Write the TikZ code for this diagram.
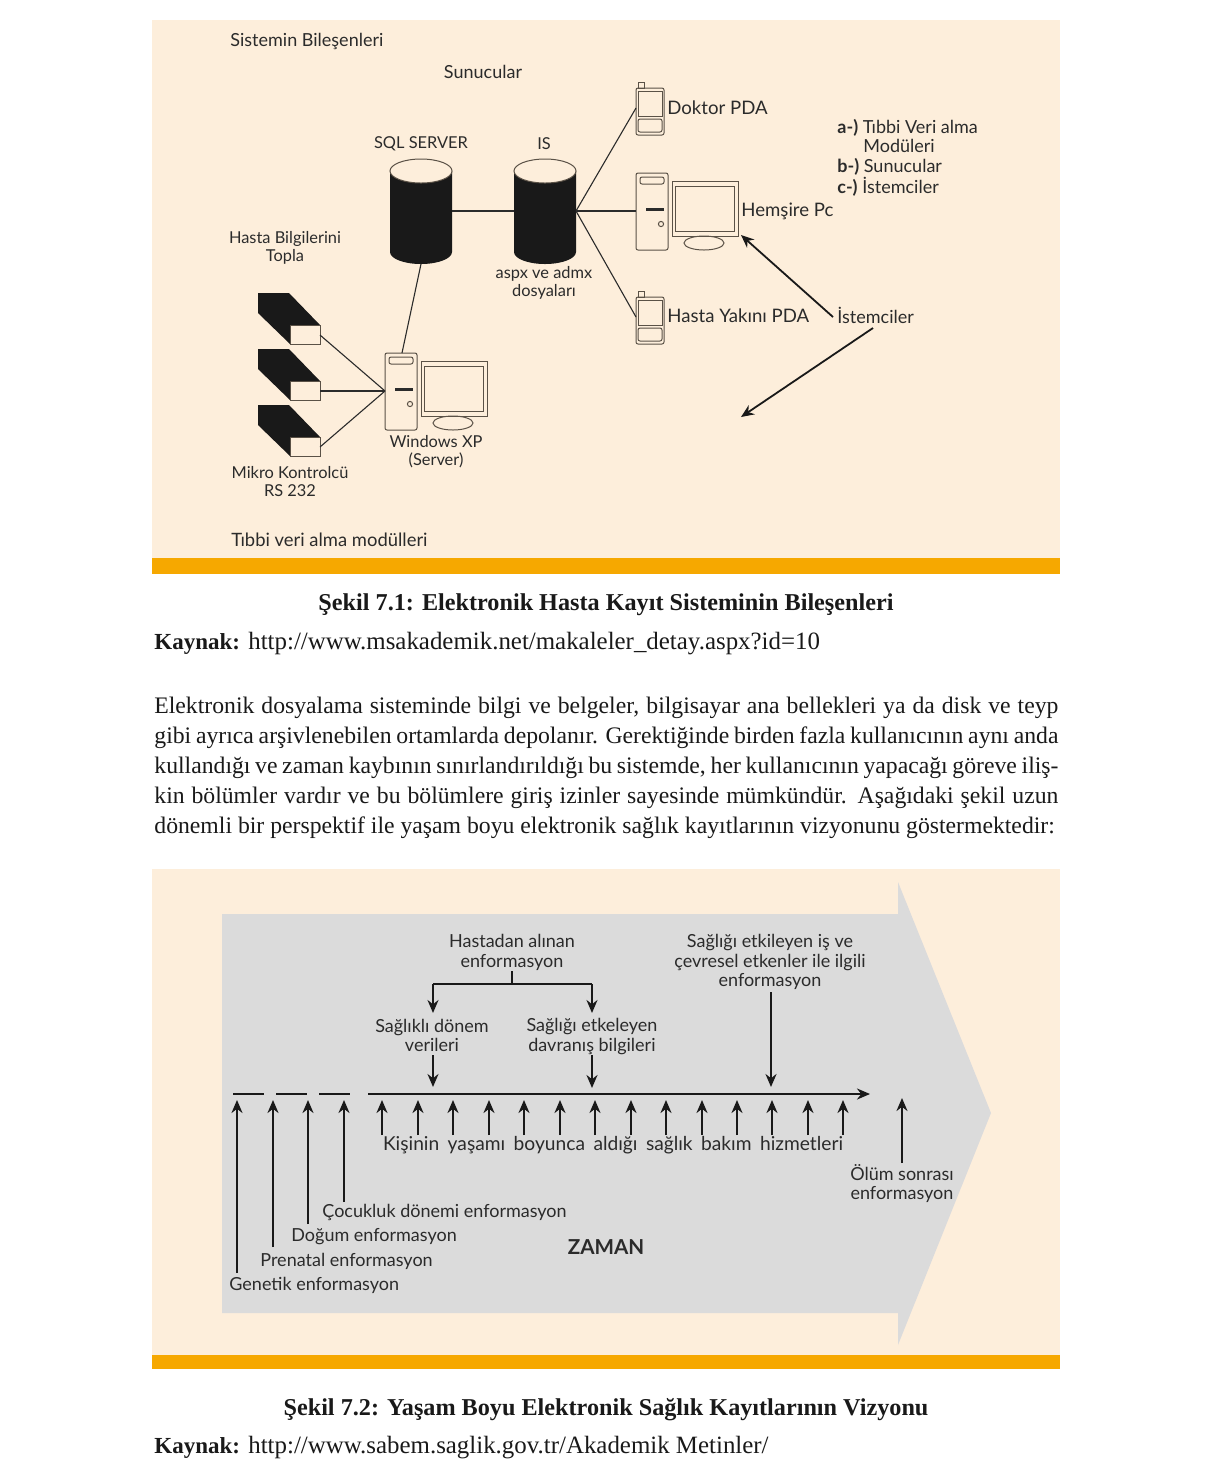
\documentclass[tikz,border=0pt]{standalone}
\usepackage{fontspec}
\setmainfont{Liberation Serif}
\newfontfamily\gillfont{Lato}
\usepackage{xcolor}
\usetikzlibrary{arrows.meta}

\definecolor{panelcream}{HTML}{FDEEDB}
\definecolor{panelbar}{HTML}{F6A800}
\definecolor{arrowgray}{HTML}{DBDBDB}
\definecolor{inkdark}{HTML}{2B2B2B}
\definecolor{devicetan}{HTML}{5A5146}

\tikzset{
  lbl/.style={inner sep=0pt,yshift=-0.7pt,text=inkdark,align=center,font=\gillfont\fontsize{9}{9.8}\selectfont},
  lblsmall/.style={lbl,font=\gillfont\fontsize{8.2}{9}\selectfont},
  lblleft/.style={lbl,anchor=west,align=left},
  lbldevice/.style={lblleft,font=\gillfont\fontsize{9.3}{10}\selectfont},
  seriftxt/.style={inner sep=0pt,yshift=-1pt,text=black!90,font=\fontsize{12.45}{15}\selectfont},
  capbold/.style={seriftxt,font=\bfseries\fontsize{12.1}{15}\selectfont},
  device/.style={draw=devicetan,line width=0.5pt},
  wire/.style={draw=inkdark,line width=0.55pt},
  timearrow/.style={draw=black!90,line width=1.2pt,-{Stealth[length=6.5pt,width=5.5pt]}},
  clientarrow/.style={timearrow,line width=0.9pt},
  pics/desktoppc/.style={code={
    \draw[device,fill=panelcream,rounded corners=1pt] (0,0) rectangle (32,77);
    \draw[device,rounded corners=1pt] (4,4) rectangle (28,11);
    \fill[inkdark] (10,35) rectangle (28,37.5);
    \draw[device] (25,51) circle (2.6);
    \draw[device] (36,8) rectangle (102,63);
    \draw[device] (39,13) rectangle (98,58);
    \draw[device] (68,70) ellipse [x radius=20,y radius=7];
    \coordinate (-top) at (17,0);
    \coordinate (-west) at (0,38);
  }},
  pics/handpda/.style={code={
    \draw[device] (2,-6) rectangle (8,0);
    \draw[device,rounded corners=1pt] (0,0) rectangle (28,47);
    \draw[device] (2,3) rectangle (26,28);
    \draw[device,rounded corners=1pt] (2,31) rectangle (26,44);
    \coordinate (-west) at (0,20);
  }},
  pics/datadrum/.style={code={
    \fill[black!90] (0,11) -- (0,92) arc[start angle=180,end angle=0,x radius=31,y radius=12] -- (62,11) -- cycle;
    \draw[device,fill=panelcream] (31,11) ellipse [x radius=31,y radius=12];
    \coordinate (-east) at (62,51);
    \coordinate (-west) at (0,51);
    \coordinate (-south) at (31,104);
  }},
  pics/microbox/.style={code={
    \fill[black!90] (0,0) -- (31,0) -- (62,32) -- (32,32) -- (32,51) -- (0,20) -- cycle;
    \draw[device,fill=panelcream] (32,32) rectangle (62,51);
    \coordinate (-east) at (62,42);
  }},
}

\begin{document}
\begin{tikzpicture}[x=0.5pt,y=-0.5pt]
  \useasboundingbox (0,0) rectangle (1227,1464);

  % upper panel
  \fill[panelcream] (152,20) rectangle (1060,558);
  \fill[panelbar] (152,558) rectangle (1060,574);

  \node[lblleft] (title) at (230,40) {Sistemin Bileşenleri};
  \node[lbl] (sunucular) at (483,71) {Sunucular};
  \node[lblsmall] (sqllabel) at (421,142) {SQL SERVER};
  \node[lblsmall] (islabel) at (544,142) {IS};
  \node[lblsmall] (aspxlabel) at (544,281) {aspx ve admx\\dosyaları};
  \node[lblsmall] (hastabilgi) at (285,246) {Hasta Bilgilerini\\Topla};
  \node[lblsmall] (winlabel) at (436,450) {Windows XP\\(Server)};
  \node[lblsmall] (mikrolabel) at (290,480) {Mikro Kontrolcü\\RS 232};
  \node[lblleft,font=\gillfont\fontsize{9.2}{10}\selectfont] (tibbi) at (231,538) {Tıbbi veri alma modülleri};
  \node[lblleft] (lega) at (837,126) {\textbf{a-)} Tıbbi Veri alma};
  \node[lblleft] (legm) at (863,145) {Modüleri};
  \node[lblleft] (legb) at (837,165) {\textbf{b-)} Sunucular};
  \node[lblleft] (legc) at (837,185) {\textbf{c-)} İstemciler};
  \node[lbldevice] (doktorlabel) at (667,106) {Doktor PDA};
  \node[lbldevice] (hemsirelabel) at (741,210) {Hemşire Pc};
  \node[lbldevice] (yakinlabel) at (667,314) {Hasta Yakını PDA};
  \node[lblleft] (istemci) at (837,314) {İstemciler};

  % servers and clients
  \pic (sql) at (390,160) {datadrum};
  \pic (iis) at (514,160) {datadrum};
  \pic (doktor) at (636,88) {handpda};
  \pic (yakin) at (636,297) {handpda};
  \pic (hemsire) at (636,173) {desktoppc};
  \pic (srv) at (385,353) {desktoppc};
  \pic (mk1) at (258,293) {microbox};
  \pic (mk2) at (258,349) {microbox};
  \pic (mk3) at (258,405) {microbox};

  \draw[wire] (sql-east) -- (iis-west);
  \draw[wire] (iis-east) -- (doktor-west);
  \draw[wire] (iis-east) -- (hemsire-west);
  \draw[wire] (iis-east) -- (yakin-west);
  \draw[wire] (sql-south) -- (srv-top);
  \draw[wire] (mk1-east) -- (srv-west);
  \draw[wire] (mk2-east) -- (srv-west);
  \draw[wire] (mk3-east) -- (srv-west);

  \coordinate (istA) at (833,317);
  \coordinate (istB) at (873,328);
  \coordinate (pcend) at (741,235);
  \coordinate (freeend) at (741,417);
  \draw[clientarrow] (istA) -- (pcend);
  \draw[clientarrow] (istB) -- (freeend);

  % captions and text
  \node[capbold] (cap1) at (606,603) {Şekil 7.1: Elektronik Hasta Kayıt Sisteminin Bileşenleri};
  \node[seriftxt,anchor=west] (src1) at (154,642) {{\bfseries\fontsize{11.5}{15}\selectfont Kaynak:} http://www.msakademik.net/makaleler\_detay.aspx?id=10};
  \node[seriftxt,font=\fontsize{11.85}{15}\selectfont,anchor=north west,text width=452pt,align=justify] (bodytxt) at (154,695) {Elektronik dosyalama sisteminde bilgi ve belgeler, bilgisayar ana bellekleri ya da disk ve teyp\linebreak
    gibi ayrıca arşivlenebilen ortamlarda depolanır. Gerektiğinde birden fazla kullanıcının aynı anda\linebreak
    kullandığı ve zaman kaybının sınırlandırıldığı bu sistemde, her kullanıcının yapacağı göreve iliş-\linebreak
    kin bölümler vardır ve bu bölümlere giriş izinler sayesinde mümkündür. Aşağıdaki şekil uzun\linebreak
    dönemli bir perspektif ile yaşam boyu elektronik sağlık kayıtlarının vizyonunu göstermektedir:};

  % lower panel
  \fill[panelcream] (152,869) rectangle (1060,1355);
  \fill[panelbar] (152,1355) rectangle (1060,1369);
  \fill[arrowgray] (222,914) -- (898,914) -- (898,882) -- (991,1113) -- (898,1345) -- (898,1313) -- (222,1313) -- cycle;

  \node[lbl] (hastadan) at (512,951) {Hastadan alınan\\enformasyon};
  \node[lbl] (saglikli) at (432,1034) {Sağlıklı dönem\\verileri};
  \node[lbl] (davranis) at (592,1035) {Sağlığı etkeleyen\\davranış bilgileri};
  \node[lbl] (cevre) at (770,960.5) {Sağlığı etkileyen iş ve\\çevresel etkenler ile ilgili\\enformasyon};
  \node[lbl,font=\gillfont\fontsize{9.6}{10}\selectfont] (kisi) at (613,1144) {\makebox[230pt][s]{Kişinin yaşamı boyunca aldığı sağlık bakım hizmetleri}};
  \node[lbl] (olum) at (902,1182) {Ölüm sonrası\\enformasyon};
  \node[lblleft] (cocuk) at (322,1211) {Çocukluk dönemi enformasyon};
  \node[lblleft] (dogum) at (291,1235) {Doğum enformasyon};
  \node[lblleft] (prenatal) at (260,1260) {Prenatal enformasyon};
  \node[lblleft] (genetik) at (229,1284) {Genetik enformasyon};
  \node[lbl,font=\gillfont\bfseries\fontsize{10.3}{10}\selectfont] (zaman) at (606,1246) {ZAMAN};

  % bracket over the two data groups
  \coordinate (brL) at (433,984);
  \coordinate (brR) at (592,984);
  \draw[line width=1pt,black!90] (512,971) -- (512,984);
  \draw[timearrow,line width=1pt] (brL) -- (433,1013);
  \draw[timearrow,line width=1pt] (brR) -- (592,1013);
  \draw[line width=1pt,black!90] (brL) -- (brR);
  \draw[timearrow] (433,1055) -- (433,1087);
  \draw[timearrow] (592,1055) -- (592,1088);
  \draw[timearrow] (771,992) -- (771,1087);

  % time axis
  \draw[timearrow] (368,1094) -- (870,1094);
  \foreach \xa in {233,276,319}
    \draw[line width=1.3pt,black!90] (\xa,1094) -- ++(31,0);
  \foreach \xb in {382,418,453,489,524,560,595,631,666,702,737,772,808,843}
    \draw[timearrow] (\xb,1135) -- (\xb,1100);
  \foreach \xc/\yc in {237/1273,273/1247,308/1224,344/1202}
    \draw[timearrow] (\xc,\yc) -- (\xc,1100);
  \draw[timearrow] (902,1163) -- (902,1098);

  \node[capbold] (cap2) at (606,1408) {Şekil 7.2: Yaşam Boyu Elektronik Sağlık Kayıtlarının Vizyonu};
  \node[seriftxt,anchor=west] (src2) at (154,1446) {{\bfseries\fontsize{11.5}{15}\selectfont Kaynak:} http://www.sabem.saglik.gov.tr/Akademik Metinler/};
\end{tikzpicture}
\end{document}
